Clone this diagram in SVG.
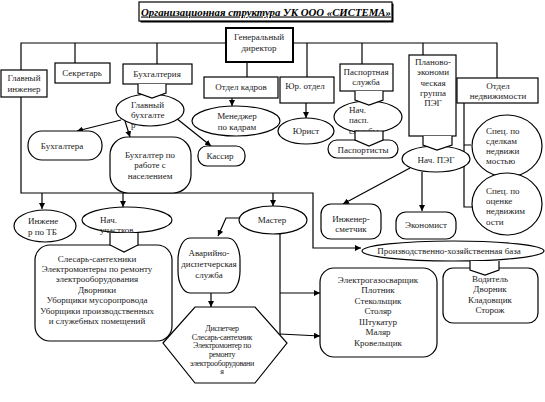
<svg xmlns="http://www.w3.org/2000/svg" width="545" height="402" viewBox="0 0 545 402">
<defs>
<marker id="ar" viewBox="0 0 10 10" refX="10" refY="5" markerWidth="5" markerHeight="5" orient="auto">
<path d="M0,0 L10,5 L0,10 z" fill="#000"/>
</marker>
<style>
.s{fill:#fff;stroke:#000;stroke-width:1.2}
.b{fill:#fff;stroke:#000;stroke-width:2}
.c{fill:none;stroke:#000;stroke-width:1.2}
.a{fill:none;stroke:#000;stroke-width:1.2;marker-end:url(#ar)}
text{font-family:"Liberation Serif","DejaVu Serif",serif;font-size:9px;fill:#1a1a1a;text-anchor:middle}
.l{text-anchor:start}
.sm{font-size:8px;letter-spacing:-0.3px}
.t{font-size:10.8px;font-weight:bold;font-style:italic;text-decoration:underline;fill:#000}
</style>
</defs>
<rect width="545" height="402" fill="#fff"/>

<g id="title">
<rect x="140.5" y="3.5" width="253" height="19" fill="#000"/>
<rect x="139" y="2" width="253" height="19" class="s"/>
<text x="266" y="15.5" class="t">Организационная структура УК ООО «СИСТЕМА»</text>
</g>

<g id="connectors">
<path class="c" d="M21,70 V43 H497 V78"/>
<path class="c" d="M75,43 V63"/>
<path class="c" d="M157,43 V64"/>
<path class="c" d="M247,62 V77"/>
<path class="c" d="M307,43 V77"/>
<path class="c" d="M362,43 V64"/>
<path class="c" d="M423,43 V55"/>
<path class="a" d="M21,97 V193 H313 V248 H361"/>
<path class="a" d="M42,193 V209"/>
<path class="a" d="M123,193 V207"/>
<path class="a" d="M273,193 V206"/>
<path class="a" d="M121,120 L77,131"/>
<path class="a" d="M125,121 L130,137"/>
<path class="a" d="M176,118 L211,146"/>
<path class="a" d="M232,98 V106"/>
<path class="a" d="M306,103 V118"/>
<path class="a" d="M240,218 H226 L218,236"/>
<path class="c" d="M280,233 V335"/>
<path class="a" d="M280,293 H320"/>
<path class="a" d="M280,334 L320,336"/>
<path class="a" d="M211,293 V307"/>
<path class="a" d="M410,168 L343,204"/>
<path class="a" d="M422,172 V211"/>
<path class="c" d="M464,103 V207 H473 M464,145 H471"/>
</g>

<g id="director">
<rect x="226" y="28" width="67" height="34" class="b"/>
<text x="259" y="40">Генеральный</text>
<text x="259" y="51">директор</text>
</g>

<g id="chief-engineer">
<rect x="1" y="70" width="46" height="27" class="s"/>
<text x="24" y="81">Главный</text>
<text x="24" y="92">инженер</text>
</g>

<g id="secretary">
<rect x="55" y="63" width="55" height="20" class="s"/>
<text x="82" y="76">Секретарь</text>
</g>

<g id="accounting">
<rect x="123" y="64" width="69" height="20" class="s"/>
<text x="157" y="77">Бухгалтерия</text>
</g>

<g id="chief-accountant">
<ellipse cx="150" cy="110" rx="34" ry="16" class="s"/>
<path d="M138,84 V93 L152,98 L166,93 V84" class="s"/>
<text x="131" y="108" class="l">Главный</text>
<text x="131" y="118" class="l">бухгалте</text>
<text x="131" y="128" class="l">р</text>
</g>

<g id="accountants">
<rect x="28" y="131" width="74" height="29" rx="14" class="s"/>
<text x="62" y="149">Бухгалтера</text>
</g>

<g id="accountant-population">
<rect x="110" y="137" width="81" height="56" rx="18" class="s"/>
<text x="150" y="158">Бухгалтер по</text>
<text x="150" y="168">работе с</text>
<text x="150" y="179">населением</text>
</g>

<g id="cashier">
<rect x="198" y="146" width="47" height="20" rx="9" class="s"/>
<text x="220" y="159">Кассир</text>
</g>

<g id="hr">
<rect x="204" y="77" width="74" height="21" class="s"/>
<text x="241" y="90">Отдел кадров</text>
</g>

<g id="hr-manager">
<ellipse cx="236" cy="121" rx="44" ry="15" class="s"/>
<text x="237" y="119">Менеджер</text>
<text x="237" y="130">по кадрам</text>
</g>

<g id="legal">
<rect x="280" y="77" width="54" height="26" class="s"/>
<text x="305" y="89">Юр. отдел</text>
</g>

<g id="lawyer">
<ellipse cx="306" cy="131" rx="28" ry="13" class="s"/>
<text x="306" y="134">Юрист</text>
</g>

<g id="passport-service">
<rect x="340" y="64" width="53" height="27" class="s"/>
<text x="366" y="75">Паспортная</text>
<text x="366" y="85">служба</text>
</g>

<g id="passport-head">
<ellipse cx="368" cy="117" rx="34" ry="16" class="s"/>
<path d="M355,91 V100 L369,105 L383,100 V91" class="s"/>
<text x="349" y="113" class="l">Нач.</text>
<text x="349" y="123" class="l">пасп.</text>
<text x="349" y="134" class="l">службы</text>
</g>

<g id="passport-officers">
<rect x="328" y="140" width="70" height="18" rx="9" class="s"/>
<path d="M355,131 H383 V140 L369,146 L355,140 Z" class="s"/>
<text x="363" y="153">Паспортисты</text>
</g>

<g id="peg">
<rect x="409" y="55" width="47" height="81" class="s"/>
<text x="433" y="65">Планово-</text>
<text x="433" y="75">экономи</text>
<text x="433" y="86">ческая</text>
<text x="433" y="96">группа</text>
<text x="433" y="106">ПЭГ</text>
</g>

<g id="peg-head">
<ellipse cx="436" cy="159" rx="34" ry="13" class="s"/>
<path d="M423,136 V145 L437,150 L452,145 V136" class="s"/>
<text x="436" y="163">Нач. ПЭГ</text>
</g>

<g id="realty">
<rect x="457" y="78" width="81" height="25" class="s"/>
<text x="498" y="89">Отдел</text>
<text x="498" y="99">недвижимости</text>
</g>

<g id="realty-deals">
<ellipse cx="507" cy="146" rx="35" ry="31" class="s"/>
<text x="486" y="134" class="l">Спец. по</text>
<text x="486" y="144" class="l">сделкам</text>
<text x="486" y="154" class="l">недвижи</text>
<text x="486" y="164" class="l">мостью</text>
</g>

<g id="realty-valuation">
<ellipse cx="507" cy="204" rx="35" ry="31" class="s"/>
<text x="486" y="194" class="l">Спец. по</text>
<text x="486" y="204" class="l">оценке</text>
<text x="486" y="214" class="l">недвижим</text>
<text x="486" y="225" class="l">ости</text>
</g>

<g id="estimator">
<rect x="321" y="204" width="60" height="35" rx="10" class="s"/>
<text x="351" y="222">Инженер-</text>
<text x="351" y="232">сметчик</text>
</g>

<g id="economist">
<rect x="396" y="212" width="60" height="27" rx="10" class="s"/>
<text x="426" y="228">Экономист</text>
</g>

<g id="safety-engineer">
<ellipse cx="45" cy="226" rx="31" ry="16" class="s"/>
<text x="28" y="224" class="l">Инжене</text>
<text x="28" y="235" class="l">р по ТБ</text>
</g>

<g id="section-heads">
<ellipse cx="127" cy="220" rx="45" ry="13" class="s"/>
<text x="100" y="223" class="l">Нач.</text>
<text x="100" y="233" class="l">участков</text>
</g>

<g id="workers">
<rect x="35" y="245" width="137" height="96" rx="15" class="s"/>
<path d="M110,233 V245 L124,252 L138,245 V233" class="s"/>
<text x="97" y="262">Слесарь-сантехники</text>
<text x="97" y="272">Электромонтеры по ремонту</text>
<text x="97" y="282">электрооборудования</text>
<text x="97" y="293">Дворники</text>
<text x="97" y="303">Уборщики мусоропровода</text>
<text x="97" y="314">Уборщики производственных</text>
<text x="97" y="324">и служебных помещений</text>
</g>

<g id="master">
<ellipse cx="273" cy="220" rx="34" ry="14" class="s"/>
<text x="272" y="223">Мастер</text>
</g>

<g id="emergency">
<rect x="178" y="238" width="62" height="55" rx="12" ry="22" class="s"/>
<text x="209" y="256">Аварийно-</text>
<text x="209" y="267">диспетчерская</text>
<text x="209" y="278">служба</text>
</g>

<g id="dispatch-staff">
<polygon points="163,343 195,307 255,307 287,343 255,383 195,383" class="s"/>
<text x="222" y="331" class="sm">Диспетчер</text>
<text x="222" y="340" class="sm">Слесарь-сантехник</text>
<text x="222" y="348" class="sm">Электромонтер по</text>
<text x="222" y="357" class="sm">ремонту</text>
<text x="222" y="366" class="sm">электрооборудовани</text>
<text x="222" y="374" class="sm">я</text>
</g>

<g id="base">
<ellipse cx="453" cy="251" rx="91" ry="10" class="s"/>
<text x="449" y="254">Производственно-хозяйственная база</text>
</g>

<g id="trades">
<rect x="320" y="268" width="117" height="89" rx="14" class="s"/>
<text x="378" y="283">Электрогазосварщик</text>
<text x="378" y="293">Плотник</text>
<text x="378" y="304">Стекольщик</text>
<text x="378" y="314">Столяр</text>
<text x="378" y="325">Штукатур</text>
<text x="378" y="335">Маляр</text>
<text x="378" y="346">Кровельщик</text>
</g>

<g id="base-staff">
<rect x="443" y="268" width="95" height="55" rx="10" class="s"/>
<path d="M470,261 V270 L485,275 L499,270 V261" class="s"/>
<text x="490" y="282">Водитель</text>
<text x="490" y="292">Дворник</text>
<text x="490" y="303">Кладовщик</text>
<text x="490" y="313">Сторож</text>
</g>
</svg>
